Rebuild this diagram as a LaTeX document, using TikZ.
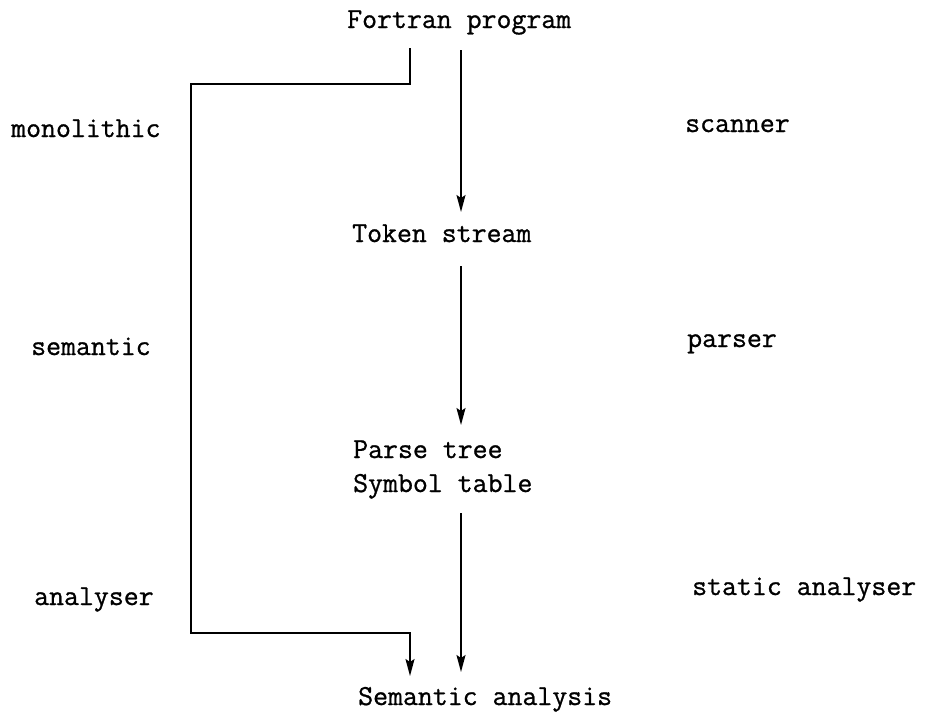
\documentclass[tikz,border=0pt]{standalone}
\usepackage{fontspec}
\setmonofont{Latin Modern Mono}[FakeBold=0.9]
\usetikzlibrary{arrows.meta}
\begin{document}
\begin{tikzpicture}[x=1pt,y=-1pt,
  lbl/.style={anchor=base west,inner sep=0pt,font=\ttfamily\fontsize{29}{32}\selectfont},
  conn/.style={line width=1.7pt},
  arr/.style={conn,-{Stealth[length=17pt,width=9pt,inset=3pt]}}]
\useasboundingbox[fill=white] (0,0) rectangle (925,718);
% central texts
\node[lbl] (fortran) at (347,28) {Fortran program};
\node[lbl] (token) at (352,242) {Token stream};
\node[lbl] (parse) at (353,458) {Parse tree};
\node[lbl] (symbol) at (353,492) {Symbol table};
\node[lbl] (semana) at (358,705) {Semantic analysis};
% left labels
\node[lbl] (mono) at (11,137) {monolithic};
\node[lbl] (sem) at (31,355) {semantic};
\node[lbl] (anal) at (34,605) {analyser};
% right labels
\node[lbl] (scan) at (685,132) {scanner};
\node[lbl] (pars) at (687,347) {parser};
\node[lbl] (stat) at (692,595) {static analyser};
% arrow end points
\coordinate (a1s) at (461,50);
\coordinate (a1e) at (461,212);
\coordinate (a2s) at (461,266);
\coordinate (a2e) at (461,425);
\coordinate (a3s) at (461,513);
\coordinate (a3e) at (461,672);
\coordinate (bs) at (410,48);
\coordinate (bl1) at (191,84);
\coordinate (bl2) at (191,633);
\coordinate (be) at (410,676);
% connectors
\draw[arr] (a1s) -- (a1e);
\draw[arr] (a2s) -- (a2e);
\draw[arr] (a3s) -- (a3e);
\draw[arr] (bs) |- (bl1) -- (bl2) -| (be);
\end{tikzpicture}
\end{document}
